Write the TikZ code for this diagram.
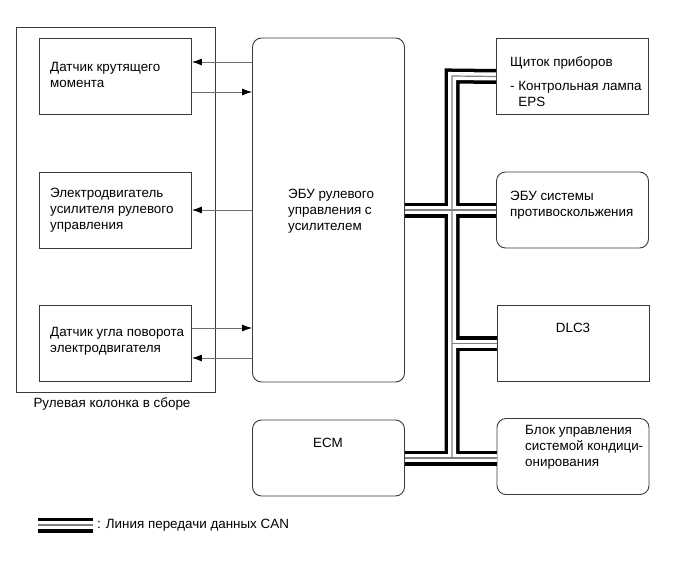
\documentclass[tikz,border=0pt]{standalone}
\usepackage{fontspec}
\setmainfont{Liberation Sans}
\usetikzlibrary{arrows.meta,positioning,calc}
\definecolor{wire}{HTML}{6E6E6E}
\definecolor{frameline}{HTML}{3A3A3A}

\tikzset{
  blk/.style={draw=frameline,line width=0.9pt,minimum width=152pt,minimum height=76pt,inner sep=0pt},
  rblk/.style={blk,rounded corners=9pt},
  txt/.style={align=left,anchor=west,inner sep=0pt,font=\fontsize{13.4}{16}\selectfont},
  sig/.style={-{Latex[length=10pt,width=7pt,color=black]},wire,line width=0.8pt},
  busout/.style={line width=15pt,black,line join=miter},
  busin/.style={line width=8pt,white,line join=miter},
  buscore/.style={line width=1.2pt,gray,line join=miter},
}

\begin{document}
\begin{tikzpicture}[x=1pt,y=-1pt]
  \useasboundingbox (0,0) rectangle (691,562);

  % steering column assembly
  \node[draw=frameline,line width=0.8pt,minimum width=199pt,minimum height=365pt] (col) at (115.5,209.5) {};
  \node[txt,anchor=center] (coltxt) at (112,404) {Рулевая колонка в сборе};
  \node[blk] (tq) at (115.5,76) {};
  \node[blk] (mot) at (115.5,210) {};
  \node[blk] (ang) at (115.5,343.5) {};
  \node[txt] (tqtxt) at (50,74.5) {Датчик крутящего\\момента};
  \node[txt] (mottxt) at (50,210) {Электродвигатель\\усилителя рулевого\\управления};
  \node[txt] (angtxt) at (50,341) {Датчик угла поворота\\электродвигателя};

  % power steering ECU and ECM
  \node[rblk,minimum height=344pt] (ecu) at (328.5,210) {};
  \node[txt] (ecutxt) at (288,211.5) {ЭБУ рулевого\\управления с\\усилителем};
  \node[rblk] (ecm) at (328.5,458) {};
  \node[txt,anchor=center] (ecmtxt) at (328,443) {ECM};

  % right column
  \node[blk] (ic) at (572.5,76.5) {};
  \node[txt] (ictxt) at (510,82) {Щиток приборов\\[8pt]- Контрольная лампа\\\phantom{-}\ EPS};
  \node[rblk] (skid) at (572.5,210) {};
  \node[txt] (skidtxt) at (510,205.5) {ЭБУ системы\\противоскольжения};
  \node[blk] (dlc) at (573,343.5) {};
  \node[txt,anchor=center] (dlctxt) at (573,328) {DLC3};
  \node[rblk] (ac) at (573,456.5) {};
  \node[txt] (actxt) at (525,447.5) {Блок управления\\системой кондици-\\онирования};

  % signal lines
  \draw[sig] (ecu.west |- 0,62) -- (tq.east |- 0,62);
  \draw[sig] (tq.east |- 0,92) -- (ecu.west |- 0,92);
  \draw[sig] (ecu.west |- 0,210) -- (mot.east |- 0,210);
  \draw[sig] (ang.east |- 0,328) -- (ecu.west |- 0,328);
  \draw[sig] (ecu.west |- 0,358) -- (ang.east |- 0,358);

  % CAN bus
  \coordinate (bustop) at (452,76);
  \coordinate (busbot) at (452,458);
  \coordinate (keyl) at (38,525);
  \coordinate (keyr) at (93,525);
  \foreach \s in {busout,busin,buscore} {
    \draw[\s] (busbot) -- (bustop) -- (ic.west);
    \draw[\s] (ecu.east) -- (skid.west);
    \draw[\s] (busbot |- dlc.west) -- (dlc.west);
    \draw[\s] (ecm.east) -- (ecm.east -| ac.west);
    \draw[\s] (keyl) -- (keyr);
  }
  \node[txt] (keytxt) at (97,525) {: Линия передачи данных CAN};
\end{tikzpicture}
\end{document}
